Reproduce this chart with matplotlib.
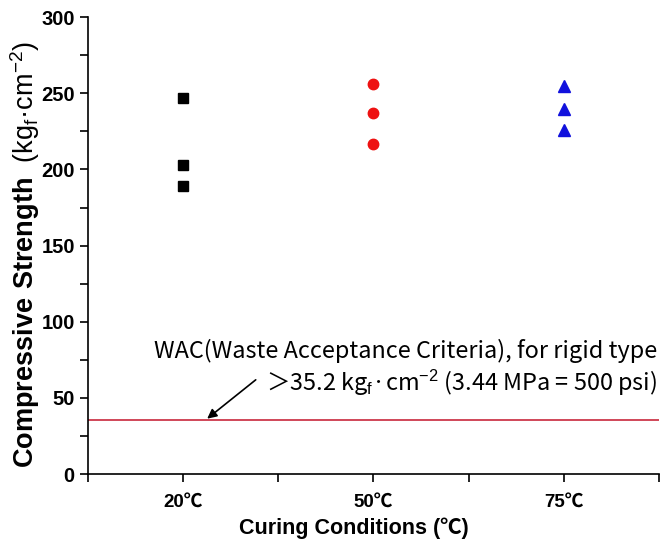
import matplotlib.pyplot as plt
from matplotlib.ticker import MultipleLocator, FixedLocator

# 압축강도 측정값 (kgf/cm2), 양생 온도별 3개 시편
conditions = ["20℃", "50℃", "75℃"]
strength_20 = [247, 203, 189]
strength_50 = [256, 237, 217]
strength_75 = [255, 240, 226]
wac_limit = 35.2

plt.rcParams['font.family'] = ['Liberation Sans', 'Noto Sans CJK KR', 'DejaVu Sans']
plt.rcParams['mathtext.fontset'] = 'custom'
plt.rcParams['mathtext.rm'] = 'Liberation Sans'
plt.rcParams['mathtext.bf'] = 'Liberation Sans:bold'

fig = plt.figure(figsize=(6.63, 5.49), dpi=100)
ax = fig.add_axes([0.1327, 0.1366, 0.861, 0.832])

ax.plot([1] * len(strength_20), strength_20, ls="none", marker="s", ms=6.5, color="black")
ax.plot([2] * len(strength_50), strength_50, ls="none", marker="o", ms=7.5, color="#ee1111")
ax.plot([3] * len(strength_75), strength_75, ls="none", marker="^", ms=8.5, color="#1111dd")

ax.axhline(wac_limit, color="#c8283c", lw=1.2)

ax.annotate("", xy=(1.115, wac_limit), xytext=(1.393, 63),
            arrowprops=dict(arrowstyle="-|>", color="black", lw=1.2, mutation_scale=14))
cjk = ['Noto Sans CJK KR', 'DejaVu Sans']
ax.text(3.49, 81, "WAC(Waste Acceptance Criteria), for rigid type",
        ha="right", va="center", fontsize=16.9, family=cjk)
ax.text(3.49, 60, "＞35.2 kg$_\\mathrm{f}$·cm$^{-2}$ (3.44 MPa = 500 psi)",
        ha="right", va="center", fontsize=16.9, family=cjk)

ax.set_xlim(0.5, 3.5)
ax.set_ylim(0, 300)
ax.xaxis.set_major_locator(FixedLocator([1, 2, 3]))
ax.xaxis.set_minor_locator(FixedLocator([0.5, 1.5, 2.5, 3.5]))
ax.set_xticklabels(conditions)
ax.yaxis.set_major_locator(MultipleLocator(50))
ax.yaxis.set_minor_locator(MultipleLocator(25))

ax.spines["top"].set_visible(False)
ax.spines["right"].set_visible(False)
for s in ["left", "bottom"]:
    ax.spines[s].set_linewidth(1.2)
ax.tick_params(which="both", direction="out", length=6, width=1.2)
ax.tick_params(axis="y", labelsize=14.5)
ax.tick_params(axis="x", labelsize=13.5, pad=8)
for lab in ax.get_yticklabels() + ax.get_xticklabels():
    lab.set_fontweight("bold")

ax.set_xlabel("Curing Conditions (℃)", fontsize=15.5, fontweight="bold")
ax.xaxis.set_label_coords(0.465, -0.095)
ax.set_ylabel(r"$\mathbf{Compressive\ Strength}$  (kg$_\mathrm{f}$·cm$^{-2}$)", fontsize=19.5)
ax.yaxis.set_label_coords(-0.08, 0.48)

fig.savefig("out.png", dpi=100)
